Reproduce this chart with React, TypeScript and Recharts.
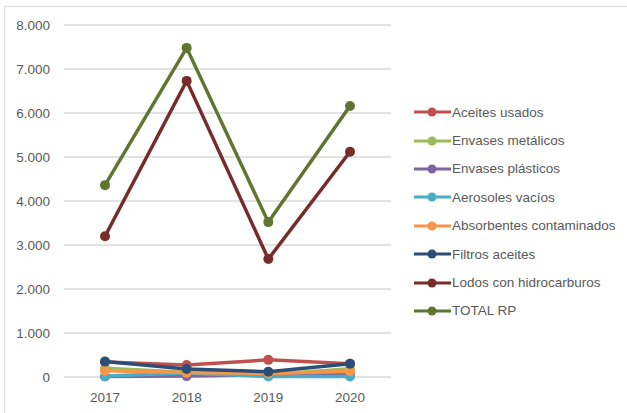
import { LineChart, Line, XAxis, YAxis, CartesianGrid } from "recharts";

const years = ["2017", "2018", "2019", "2020"];

const aceitesUsados = [340, 270, 390, 300];
const envasesMetalicos = [200, 110, 50, 190];
const envasesPlasticos = [10, 20, 50, 50];
const aerosolesVacios = [20, 90, 10, 10];
const absorbentes = [140, 100, 80, 130];
const filtrosAceites = [350, 180, 120, 300];
const lodos = [3200, 6730, 2680, 5120];
const totalRP = [4360, 7480, 3520, 6160];

const yTicks = [0, 1000, 2000, 3000, 4000, 5000, 6000, 7000, 8000];

const series = [
  { key: "aceites", name: "Aceites usados", color: "#C0504D", values: aceitesUsados },
  { key: "metal", name: "Envases metálicos", color: "#9BBB59", values: envasesMetalicos },
  { key: "plast", name: "Envases plásticos", color: "#8064A2", values: envasesPlasticos },
  { key: "aero", name: "Aerosoles vacíos", color: "#4BACC6", values: aerosolesVacios },
  { key: "absorb", name: "Absorbentes contaminados", color: "#F79646", values: absorbentes },
  { key: "filtros", name: "Filtros aceites", color: "#2C4D75", values: filtrosAceites },
  { key: "lodos", name: "Lodos con hidrocarburos", color: "#772C2A", values: lodos },
  { key: "total", name: "TOTAL RP", color: "#5F7530", values: totalRP },
];

const data = years.map((year, i) => {
  const row: Record<string, string | number> = { year };
  series.forEach((s) => (row[s.key] = s.values[i]));
  return row;
});

const fmt = (v: number) => v.toLocaleString("de-DE");

function LegendBox() {
  return (
    <div style={{ position: "absolute", left: 414, top: 98 }}>
      {series.map((s) => (
        <div key={s.key} style={{ display: "flex", alignItems: "center", height: 28.4 }}>
          <svg width={37} height={12}>
            <line x1={0} y1={6} x2={37} y2={6} stroke={s.color} strokeWidth={3} />
            <circle cx={18} cy={6} r={4.5} fill={s.color} />
          </svg>
          <span style={{ fontSize: 13.5, color: "#595959", marginLeft: 1, whiteSpace: "nowrap" }}>{s.name}</span>
        </div>
      ))}
    </div>
  );
}

export default function App() {
  return (
    <div style={{ position: "fixed", left: 0, top: 0, width: 627, height: 413, background: "#fff", fontFamily: "'Liberation Sans', Arial, sans-serif", overflow: "hidden" }}>
      <div style={{ position: "absolute", left: 4, top: 6, width: 700, height: 500, borderLeft: "1px solid #d9d9d9", borderTop: "1px solid #d9d9d9" }} />
      <LineChart width={627} height={413} data={data} margin={{ top: 25, right: 236, left: 8, bottom: 6 }}>
        <CartesianGrid vertical={false} stroke="#d9d9d9" strokeWidth={1.5} />
        <XAxis
          dataKey="year"
          axisLine={false}
          tickLine={false}
          padding={{ left: 41, right: 41 }}
          tick={{ fontSize: 13.5, fill: "#595959" }}
          tickMargin={9}
          height={30}
        />
        <YAxis
          domain={[0, 8000]}
          ticks={yTicks}
          interval={0}
          tickFormatter={fmt}
          axisLine={false}
          tickLine={false}
          tick={{ fontSize: 13.5, fill: "#595959" }}
          tickMargin={8}
          width={56}
        />
        {series.map((s) => (
          <Line
            key={s.key}
            dataKey={s.key}
            name={s.name}
            stroke={s.color}
            strokeWidth={3.5}
            dot={{ r: 5, fill: s.color, stroke: s.color, strokeWidth: 0 }}
            isAnimationActive={false}
          />
        ))}
      </LineChart>
      <LegendBox />
    </div>
  );
}
